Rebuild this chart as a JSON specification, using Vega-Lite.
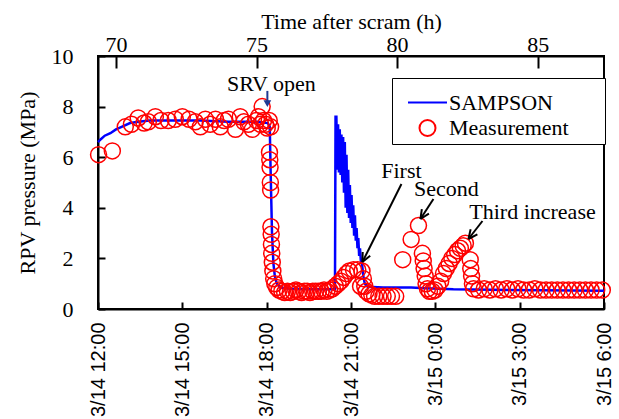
{
  "$schema": "https://vega.github.io/schema/vega-lite/v6.json",
  "width": 506,
  "height": 253,
  "padding": {"left": 16, "top": 10, "right": 5, "bottom": 5},
  "background": "white",
  "config": {
    "view": {"stroke": "black", "strokeWidth": 2},
    "axis": {
      "domainColor": "black", "domainWidth": 2, "tickColor": "black", "tickWidth": 2,
      "labelColor": "black", "titleColor": "black", "grid": false,
      "labelFont": "Liberation Serif", "labelFontSize": 22,
      "titleFont": "Liberation Serif", "titleFontSize": 22, "titleFontWeight": "normal"
    },
    "legend": {
      "orient": "none", "legendX": 294, "legendY": 22,
      "strokeColor": "black", "fillColor": "white", "padding": 4,
      "labelFont": "Liberation Serif", "labelFontSize": 22, "labelColor": "black",
      "labelOffset": 1, "rowPadding": 2, "symbolOffset": 11, "symbolStrokeWidth": 2
    }
  },
  "datasets": {
    "sampson": [
      {"h": 69.36, "p": 6.6}, {"h": 69.45, "p": 6.7}, {"h": 69.6, "p": 6.85}, {"h": 69.8, "p": 6.95},
      {"h": 70.0, "p": 7.1}, {"h": 70.2, "p": 7.2}, {"h": 70.5, "p": 7.35}, {"h": 70.8, "p": 7.4},
      {"h": 71.2, "p": 7.45}, {"h": 72.0, "p": 7.45}, {"h": 73.0, "p": 7.45}, {"h": 74.0, "p": 7.4},
      {"h": 75.0, "p": 7.4}, {"h": 75.4, "p": 7.35}, {"h": 75.47, "p": 7.2}, {"h": 75.5, "p": 5.5},
      {"h": 75.55, "p": 3.0}, {"h": 75.6, "p": 1.8}, {"h": 75.65, "p": 1.3}, {"h": 75.72, "p": 1.0},
      {"h": 75.85, "p": 0.85}, {"h": 76.2, "p": 0.8}, {"h": 77.0, "p": 0.78}, {"h": 77.79, "p": 0.78},
      {"h": 77.81, "p": 7.6}, {"h": 77.84, "p": 7.6}, {"h": 77.87, "p": 5.5}, {"h": 77.9, "p": 7.3},
      {"h": 77.93, "p": 5.4}, {"h": 77.96, "p": 7.1}, {"h": 77.99, "p": 5.3}, {"h": 78.02, "p": 6.9},
      {"h": 78.05, "p": 5.0}, {"h": 78.08, "p": 6.8}, {"h": 78.11, "p": 4.6}, {"h": 78.14, "p": 6.6},
      {"h": 78.17, "p": 4.0}, {"h": 78.2, "p": 6.1}, {"h": 78.23, "p": 3.8}, {"h": 78.26, "p": 5.5},
      {"h": 78.29, "p": 3.6}, {"h": 78.32, "p": 4.9}, {"h": 78.35, "p": 3.4}, {"h": 78.38, "p": 4.5},
      {"h": 78.41, "p": 3.2}, {"h": 78.44, "p": 4.1}, {"h": 78.47, "p": 2.9}, {"h": 78.5, "p": 3.7},
      {"h": 78.53, "p": 2.7}, {"h": 78.56, "p": 3.2}, {"h": 78.59, "p": 2.4}, {"h": 78.62, "p": 2.8},
      {"h": 78.65, "p": 2.1}, {"h": 78.68, "p": 2.4}, {"h": 78.71, "p": 1.9}, {"h": 78.75, "p": 1.8},
      {"h": 78.8, "p": 1.3}, {"h": 78.85, "p": 1.0}, {"h": 78.95, "p": 0.88}, {"h": 79.5, "p": 0.85},
      {"h": 80.5, "p": 0.85}, {"h": 81.0, "p": 0.82}, {"h": 82.0, "p": 0.78}, {"h": 84.0, "p": 0.75},
      {"h": 87.36, "p": 0.72}
    ],
    "measurement": [
      {"h": 69.38, "p": 6.1}, {"h": 69.87, "p": 6.25}, {"h": 70.33, "p": 7.2}, {"h": 70.55, "p": 7.3},
      {"h": 70.79, "p": 7.55}, {"h": 71.0, "p": 7.35}, {"h": 71.15, "p": 7.4}, {"h": 71.4, "p": 7.6},
      {"h": 71.6, "p": 7.45}, {"h": 71.86, "p": 7.45}, {"h": 72.11, "p": 7.5}, {"h": 72.36, "p": 7.6},
      {"h": 72.6, "p": 7.5}, {"h": 72.82, "p": 7.4}, {"h": 73.0, "p": 7.2}, {"h": 73.18, "p": 7.5},
      {"h": 73.35, "p": 7.3}, {"h": 73.54, "p": 7.5}, {"h": 73.71, "p": 7.2}, {"h": 73.85, "p": 7.45},
      {"h": 74.0, "p": 7.5}, {"h": 74.25, "p": 7.1}, {"h": 74.42, "p": 7.6}, {"h": 74.55, "p": 7.4},
      {"h": 74.71, "p": 7.3}, {"h": 74.85, "p": 7.1}, {"h": 75.0, "p": 7.45}, {"h": 75.07, "p": 7.6},
      {"h": 75.14, "p": 7.3}, {"h": 75.2, "p": 8.0}, {"h": 75.25, "p": 7.45}, {"h": 75.32, "p": 7.3},
      {"h": 75.38, "p": 7.15}, {"h": 75.45, "p": 7.45}, {"h": 75.5, "p": 7.2},
      {"h": 75.46, "p": 6.2}, {"h": 75.47, "p": 5.9}, {"h": 75.48, "p": 5.6}, {"h": 75.49, "p": 5.0},
      {"h": 75.5, "p": 4.7}, {"h": 75.51, "p": 3.25}, {"h": 75.52, "p": 2.95}, {"h": 75.53, "p": 2.55},
      {"h": 75.54, "p": 2.2}, {"h": 75.56, "p": 1.85}, {"h": 75.58, "p": 1.5}, {"h": 75.61, "p": 1.2},
      {"h": 75.65, "p": 1.0}, {"h": 75.72, "p": 0.85}, {"h": 75.8, "p": 0.75},
      {"h": 75.9, "p": 0.7}, {"h": 76.0, "p": 0.65}, {"h": 76.1, "p": 0.7}, {"h": 76.2, "p": 0.65},
      {"h": 76.3, "p": 0.7}, {"h": 76.4, "p": 0.75}, {"h": 76.5, "p": 0.7}, {"h": 76.6, "p": 0.65},
      {"h": 76.7, "p": 0.7}, {"h": 76.8, "p": 0.7}, {"h": 76.9, "p": 0.65}, {"h": 77.0, "p": 0.7},
      {"h": 77.1, "p": 0.7}, {"h": 77.2, "p": 0.7}, {"h": 77.3, "p": 0.7}, {"h": 77.4, "p": 0.75},
      {"h": 77.5, "p": 0.7}, {"h": 77.6, "p": 0.75}, {"h": 77.7, "p": 0.8},
      {"h": 77.8, "p": 0.9}, {"h": 77.9, "p": 1.0}, {"h": 78.0, "p": 1.1}, {"h": 78.1, "p": 1.25},
      {"h": 78.2, "p": 1.4}, {"h": 78.3, "p": 1.5}, {"h": 78.45, "p": 1.55}, {"h": 78.6, "p": 1.55},
      {"h": 78.75, "p": 1.5}, {"h": 78.7, "p": 0.9}, {"h": 78.8, "p": 1.2}, {"h": 78.85, "p": 0.9},
      {"h": 78.9, "p": 0.7}, {"h": 79.0, "p": 0.6}, {"h": 79.1, "p": 0.55}, {"h": 79.2, "p": 0.5},
      {"h": 79.35, "p": 0.5}, {"h": 79.5, "p": 0.5}, {"h": 79.65, "p": 0.5}, {"h": 79.8, "p": 0.5},
      {"h": 79.95, "p": 0.5},
      {"h": 80.2, "p": 1.95}, {"h": 80.5, "p": 2.75}, {"h": 80.76, "p": 3.3},
      {"h": 80.9, "p": 2.2}, {"h": 80.93, "p": 1.9}, {"h": 80.96, "p": 1.6}, {"h": 81.0, "p": 1.3},
      {"h": 81.03, "p": 1.0}, {"h": 81.08, "p": 0.8}, {"h": 81.15, "p": 0.7}, {"h": 81.25, "p": 0.7},
      {"h": 81.35, "p": 0.75},
      {"h": 81.45, "p": 0.9}, {"h": 81.55, "p": 1.1}, {"h": 81.65, "p": 1.4}, {"h": 81.75, "p": 1.6},
      {"h": 81.85, "p": 1.8}, {"h": 81.95, "p": 2.0}, {"h": 82.05, "p": 2.15}, {"h": 82.15, "p": 2.3},
      {"h": 82.25, "p": 2.4}, {"h": 82.35, "p": 2.5}, {"h": 82.43, "p": 2.6},
      {"h": 82.6, "p": 1.95}, {"h": 82.62, "p": 1.6}, {"h": 82.65, "p": 1.3}, {"h": 82.68, "p": 1.0},
      {"h": 82.72, "p": 0.8},
      {"h": 82.9, "p": 0.75}, {"h": 83.1, "p": 0.8}, {"h": 83.3, "p": 0.75}, {"h": 83.5, "p": 0.8},
      {"h": 83.7, "p": 0.75}, {"h": 83.9, "p": 0.8}, {"h": 84.1, "p": 0.75}, {"h": 84.3, "p": 0.8},
      {"h": 84.5, "p": 0.75}, {"h": 84.7, "p": 0.75}, {"h": 84.9, "p": 0.8}, {"h": 85.1, "p": 0.75},
      {"h": 85.3, "p": 0.75}, {"h": 85.5, "p": 0.75}, {"h": 85.7, "p": 0.75}, {"h": 85.9, "p": 0.75},
      {"h": 86.1, "p": 0.75}, {"h": 86.3, "p": 0.75}, {"h": 86.5, "p": 0.75}, {"h": 86.7, "p": 0.75},
      {"h": 86.9, "p": 0.75}, {"h": 87.1, "p": 0.75}, {"h": 87.3, "p": 0.75}
    ],
    "arrows": [
      {"h": 80.154, "p": 4.941, "h2": 78.766, "p2": 1.858},
      {"h": 78.766, "p": 1.858, "h2": 79.043, "p2": 2.103},
      {"h": 78.766, "p": 1.858, "h2": 78.776, "p2": 2.253},
      {"h": 81.292, "p": 4.348, "h2": 80.83, "p2": 3.557},
      {"h": 80.83, "p": 3.557, "h2": 81.132, "p2": 3.767},
      {"h": 80.83, "p": 3.557, "h2": 80.88, "p2": 3.949},
      {"h": 83.036, "p": 3.478, "h2": 82.538, "p2": 2.767},
      {"h": 82.538, "p": 2.767, "h2": 82.855, "p2": 2.947},
      {"h": 82.538, "p": 2.767, "h2": 82.616, "p2": 3.152}
    ],
    "srvArrow": [{"h": 75.385, "p": 8.62, "h2": 75.385, "p2": 8.2}],
    "srvHead": [{"h": 75.385, "p": 8.12}],
    "labels": [
      {"h": 75.527, "p": 8.89, "text": "SRV open"},
      {"h": 80.154, "p": 5.455, "text": "First"},
      {"h": 81.755, "p": 4.743, "text": "Second"},
      {"h": 84.816, "p": 3.834, "text": "Third increase"}
    ]
  },
  "encoding": {
    "y": {
      "field": "p", "type": "quantitative",
      "scale": {"domain": [0, 10], "nice": false, "zero": false},
      "axis": {
        "title": "RPV pressure (MPa)", "values": [0, 2, 4, 6, 8, 10],
        "tickSize": -7, "labelPadding": 32, "titlePadding": 12, "domain": true
      }
    }
  },
  "layer": [
    {
      "data": {"name": "sampson"},
      "mark": {"type": "line", "color": "#0000ff", "strokeWidth": 2.5, "clip": false},
      "encoding": {
        "x": {
          "field": "h", "type": "quantitative",
          "scale": {"domain": [69.36, 87.36], "nice": false, "zero": false},
          "axis": {
            "orient": "bottom", "title": null,
            "values": [69.36, 72.36, 75.36, 78.36, 81.36, 84.36, 87.36],
            "labelExpr": "['3/14 12:00','3/14 15:00','3/14 18:00','3/14 21:00','3/15 0:00','3/15 3:00','3/15 6:00'][round((datum.value - 69.36) / 3)]",
            "labelAngle": -90, "labelFont": "Liberation Sans", "labelFontSize": 20,
            "tickSize": -7, "labelPadding": 20
          }
        },
        "order": {"field": "h", "type": "quantitative"}
      }
    },
    {
      "data": {"name": "measurement"},
      "transform": [{"calculate": "'Measurement'", "as": "series"}],
      "mark": {"type": "point", "filled": false, "strokeWidth": 1.5, "opacity": 1, "clip": false},
      "encoding": {
        "x": {
          "field": "h", "type": "quantitative",
          "scale": {"domain": [69.36, 87.36], "nice": false, "zero": false},
          "axis": {
            "orient": "top", "title": "Time after scram (h)", "values": [70, 75, 80, 85],
            "tickSize": -12, "labelPadding": 12, "titlePadding": 0
          }
        },
        "color": {
          "field": "series", "type": "nominal", "title": null,
          "scale": {"domain": ["SAMPSON", "Measurement"], "range": ["#0000ff", "#ff0000"]},
          "legend": {"labelExpr": "datum.label + '\u2800\u2800'"}
        },
        "shape": {
          "field": "series", "type": "nominal", "title": null,
          "scale": {"domain": ["SAMPSON", "Measurement"], "range": ["stroke", "circle"]},
          "legend": {"labelExpr": "datum.label + '\u2800\u2800'"}
        },
        "size": {
          "field": "series", "type": "nominal", "title": null,
          "scale": {"domain": ["SAMPSON", "Measurement"], "range": [1521, 256]},
          "legend": {"labelExpr": "datum.label + '\u2800\u2800'"}
        }
      }
    },
    {
      "data": {"name": "arrows"},
      "mark": {"type": "rule", "color": "black", "strokeWidth": 2},
      "encoding": {
        "x": {"field": "h", "type": "quantitative", "scale": {"domain": [69.36, 87.36], "nice": false, "zero": false}, "axis": null},
        "x2": {"field": "h2"},
        "y2": {"field": "p2"}
      }
    },
    {
      "data": {"name": "srvArrow"},
      "mark": {"type": "rule", "color": "#1f3a93", "strokeWidth": 2},
      "encoding": {
        "x": {"field": "h", "type": "quantitative", "scale": {"domain": [69.36, 87.36], "nice": false, "zero": false}, "axis": null},
        "x2": {"field": "h2"},
        "y2": {"field": "p2"}
      }
    },
    {
      "data": {"name": "srvHead"},
      "mark": {"type": "point", "shape": "triangle-down", "filled": true, "color": "#1f3a93", "size": 60, "opacity": 1},
      "encoding": {
        "x": {"field": "h", "type": "quantitative", "scale": {"domain": [69.36, 87.36], "nice": false, "zero": false}, "axis": null}
      }
    },
    {
      "data": {"name": "labels"},
      "mark": {"type": "text", "font": "Liberation Serif", "fontSize": 22, "color": "black", "align": "center", "baseline": "middle"},
      "encoding": {
        "x": {"field": "h", "type": "quantitative", "scale": {"domain": [69.36, 87.36], "nice": false, "zero": false}, "axis": null},
        "text": {"field": "text"}
      }
    }
  ],
  "resolve": {"axis": {"x": "independent"}}
}
